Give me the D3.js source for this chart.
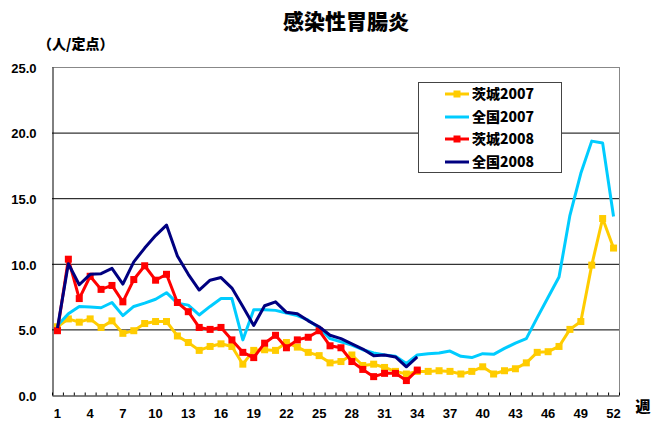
<!DOCTYPE html>
<html><head><meta charset="utf-8">
<script src="https://cdn.jsdelivr.net/npm/d3@7"></script>
<style>
body{margin:0;background:#fff;}
svg{display:block;}
.lbl{font-family:"Liberation Sans",Arial,sans-serif;font-weight:bold;font-size:13px;fill:#000;}
.cjk{font-family:"Noto Sans CJK JP","Noto Sans CJK SC",sans-serif;font-weight:900;fill:#000;}
</style></head>
<body>
<svg id="c" width="652" height="421"></svg>
<script>
const weeks = d3.range(1, 53);
const xTickLabels = [1,4,7,10,13,16,19,22,25,28,31,34,37,40,43,46,49,52];
const yTicks = [0,5,10,15,20,25];

const ibaraki2007 = [5.2,5.8,5.55,5.8,5.15,5.65,4.7,4.9,5.45,5.6,5.6,4.5,4.0,3.4,3.7,3.9,3.7,2.35,3.4,3.45,3.4,4.0,3.65,3.25,3.0,2.45,2.55,3.05,2.25,2.35,2.1,1.8,1.6,1.8,1.8,1.85,1.8,1.6,1.8,2.15,1.6,1.85,2.0,2.45,3.25,3.3,3.7,5.0,5.6,9.9,13.45,11.2];
const zenkoku2007 = [5.3,6.2,6.75,6.7,6.65,7.05,6.05,6.75,7.0,7.3,7.8,7.0,6.85,6.1,6.75,7.35,7.35,4.2,6.5,6.5,6.45,6.25,6.05,5.7,5.1,4.3,4.05,3.8,3.45,3.2,3.05,2.95,2.4,3.05,3.15,3.2,3.35,2.95,2.85,3.15,3.1,3.55,3.95,4.3,5.9,7.45,9.0,13.7,16.9,19.35,19.2,13.6];
const ibaraki2008 = [4.9,10.35,7.35,9.05,8.05,8.35,7.1,8.8,9.85,8.75,9.2,7.05,6.35,5.15,5.0,5.15,4.2,3.25,2.85,3.95,4.55,3.6,4.2,4.4,4.9,3.75,3.6,2.55,1.95,1.4,1.65,1.65,1.1,1.9];
const zenkoku2008 = [5.1,10.0,8.4,9.2,9.25,9.65,8.45,10.15,11.2,12.15,12.95,10.6,9.2,8.0,8.75,8.95,8.15,6.75,5.3,6.8,7.1,6.3,6.2,5.65,5.2,4.55,4.3,3.9,3.5,3.0,3.05,2.9,2.15,2.9];

const seriesNames = ["茨城2007","全国2007","茨城2008","全国2008"];
const seriesValues = [ibaraki2007, zenkoku2007, ibaraki2008, zenkoku2008];
const seriesColors = ["#FFCC00","#00CCFF","#FF0000","#000080"];
const seriesMarkers = [true,false,true,false];

const L = 52, R = 619, T = 67, B = 395;
const svg = d3.select("#c");

const x = d3.scaleBand().domain(weeks).range([L, R]).paddingInner(0).paddingOuter(0);
const xc = w => x(w) + x.bandwidth()/2;
const xb = d3.scaleLinear().domain([0, 52]).range([L, R]);
const y = d3.scaleLinear().domain([0, 25]).range([B, T]);

// title
svg.append("text").attr("class","cjk").attr("x",346).attr("y",29)
  .attr("text-anchor","middle").style("font-size","21px").text("感染性胃腸炎");
svg.append("text").attr("class","cjk").attr("x",38).attr("y",49)
  .style("font-size","14px").text("（人/定点）");

// gridlines
svg.append("g").selectAll("line").data([5,10,15,20]).join("line")
  .attr("x1",L).attr("x2",R).attr("y1",d=>y(d)+0.5).attr("y2",d=>y(d)+0.5)
  .attr("stroke","#000").attr("stroke-width",1);
// top & right border
svg.append("line").attr("x1",L).attr("x2",R).attr("y1",T+0.5).attr("y2",T+0.5).attr("stroke","#888");
svg.append("line").attr("x1",R+0.5).attr("x2",R+0.5).attr("y1",T).attr("y2",B).attr("stroke","#888");

// y axis
const ya = svg.append("g").attr("transform",`translate(${L+0.5},0)`)
  .call(d3.axisLeft(y).tickValues(yTicks).tickFormat(d3.format(".1f")).tickSize(0).tickPadding(16));
ya.select(".domain").attr("stroke","#000");
ya.selectAll("text").attr("class","lbl").attr("dy","0.4em");

// x axis with inward ticks at category boundaries
const xa = svg.append("g").attr("transform",`translate(0,${B+0.5})`)
  .call(d3.axisBottom(xb).tickValues(d3.range(0,53)).tickFormat("").tickSize(-3).tickSizeOuter(0));
xa.select(".domain").attr("stroke","#000");
xa.selectAll(".tick line").attr("stroke","#000");

svg.append("g").selectAll("text").data(xTickLabels).join("text")
  .attr("class","lbl").attr("x",d=>xc(d)).attr("y",418).attr("text-anchor","middle").text(d=>d);
svg.append("text").attr("class","cjk").attr("x",643).attr("y",412)
  .attr("text-anchor","middle").style("font-size","15px").text("週");

// series
const line = d3.line().x((d,i)=>xc(i+1)).y(d=>y(d));
const ms = 7;
seriesValues.forEach((vals,si)=>{
  const g = svg.append("g");
  g.append("path").datum(vals).attr("d",line).attr("fill","none")
    .attr("stroke",seriesColors[si]).attr("stroke-width",3).attr("stroke-linejoin","round");
  if (seriesMarkers[si]) {
    g.selectAll("rect").data(vals).join("rect")
      .attr("x",(d,i)=>xc(i+1)-ms/2).attr("y",d=>y(d)-ms/2)
      .attr("width",ms).attr("height",ms).attr("fill",seriesColors[si]);
  }
});

// legend
const lg = svg.append("g");
lg.append("rect").attr("x",418.5).attr("y",82.5).attr("width",143).attr("height",90)
  .attr("fill","#fff").attr("stroke","#444").attr("stroke-width",1);
const ly = [94,117,139,162];
seriesNames.forEach((n,i)=>{
  lg.append("line").attr("x1",445).attr("x2",469).attr("y1",ly[i]).attr("y2",ly[i])
    .attr("stroke",seriesColors[i]).attr("stroke-width",3);
  if (seriesMarkers[i]) lg.append("rect").attr("x",457-ms/2).attr("y",ly[i]-ms/2)
    .attr("width",ms).attr("height",ms).attr("fill",seriesColors[i]);
  lg.append("text").attr("class","cjk").attr("x",472).attr("y",ly[i]+5)
    .style("font-size","14px").text(n);
});
</script>
</body></html>
